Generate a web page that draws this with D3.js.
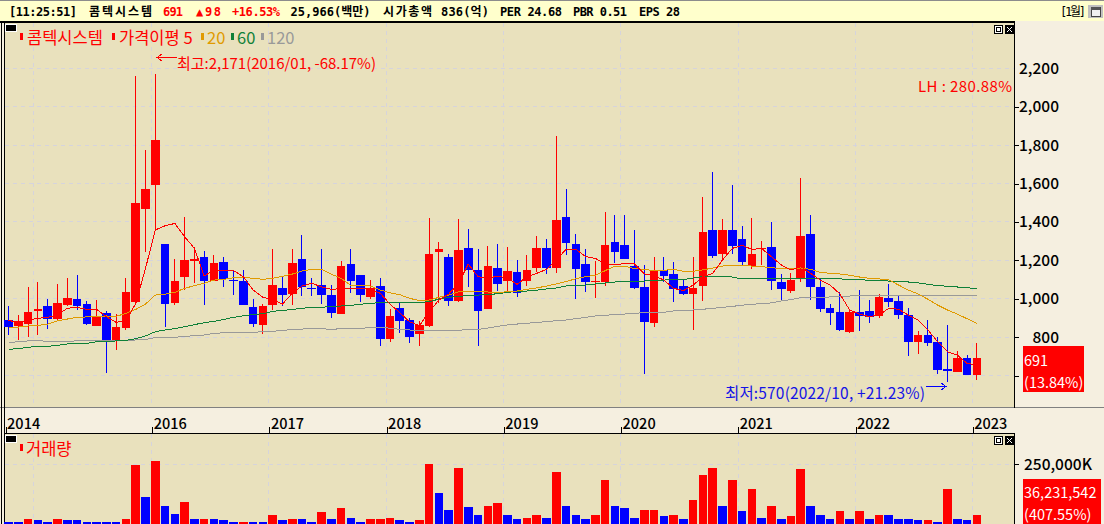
<!DOCTYPE html>
<html>
<head>
<meta charset="utf-8">
<script src="https://cdnjs.cloudflare.com/ajax/libs/d3/7.8.5/d3.min.js"></script>
<style>
html, body { margin: 0; padding: 0; background: #F5EFE0; overflow: hidden; }
text { font-family: "Noto Sans CJK KR", "Noto Sans", sans-serif; }
.hdr { font-family: "DejaVu Sans Mono", "Noto Sans CJK KR", monospace; font-weight: bold; }
.grid { stroke: #D6D4DC; stroke-width: 1; stroke-dasharray: 4,4; shape-rendering: crispEdges; }
.ma { fill: none; stroke-width: 1; shape-rendering: crispEdges; }
.axis text { font-size: 15.5px; fill: #000; font-weight: 500; }
.axis line { stroke: #000; shape-rendering: crispEdges; }
</style>
</head>
<body>
<svg id="chart"></svg>
<script>
// monthly candles, 2014/10 .. 2023/01
var opens = [889,858,868,936,962,894,967,998,972,858,
    925,780,847,983,1467,1592,1285,978,1113,1196,
    1217,1092,1191,1099,1092,957,863,967,1056,1024,
    1207,1056,1071,1019,920,1180,1123,1009,1066,790,
    951,889,816,858,1243,1217,988,1264,1149,946,
    1160,1092,1139,1092,1160,1264,1160,1426,1285,1181,
    1087,1087,1295,1280,1170,1061,873,1149,1129,1066,
    1025,1066,1358,1233,1358,1311,1170,1257,1269,1087,
    1040,1108,1337,1061,952,931,827,931,936,910,
    1004,988,915,775,811,775,634,618,691,603];
var closes = [852,884,931,946,894,977,1003,962,868,910,
    780,852,1035,1498,1571,1827,972,1092,1201,1207,
    1092,1186,1103,1094,967,868,962,1071,1019,1186,
    1061,1051,1019,925,1170,1092,1019,1056,790,910,
    884,800,863,1233,1259,988,1254,1149,936,1170,
    1077,1144,1030,1149,1264,1160,1410,1290,1155,1087,
    1092,1280,1243,1207,1056,879,1149,1118,1051,1025,
    1056,1347,1222,1358,1274,1191,1233,1262,1092,1051,
    1097,1327,1061,946,926,837,931,910,905,1009,
    983,915,775,811,769,629,624,691,603,691];
var highs = [962,915,1061,1087,998,1076,1108,1123,988,993,
    936,920,1108,2160,1775,2171,1285,1207,1426,1269,
    1248,1227,1217,1144,1149,998,975,1259,1113,1259,
    1332,1108,1259,1071,1196,1259,1123,1097,1108,947,
    977,899,884,1420,1295,1233,1415,1363,1259,1274,
    1285,1269,1202,1228,1327,1311,1847,1571,1337,1259,
    1196,1451,1436,1436,1358,1176,1217,1217,1191,1097,
    1217,1530,1660,1415,1592,1379,1420,1300,1400,1129,
    1134,1629,1436,1108,972,1035,941,1045,993,1025,
    1077,1019,952,832,889,801,863,727,707,769];
var lows = [811,785,800,811,842,884,960,941,863,858,
    613,733,837,967,1243,1358,852,967,1045,1082,
    967,1092,1061,1019,967,852,816,941,962,967,
    1014,1014,972,899,920,1030,983,998,754,774,
    821,769,754,852,977,962,983,1061,754,946,
    1040,1040,1009,1066,1139,1129,1134,1228,998,1035,
    1004,1066,1186,1207,1050,608,853,1087,983,1019,
    837,988,1212,1207,1233,1176,1155,1176,1045,988,
    1030,1087,993,931,863,832,821,832,873,899,
    957,894,702,712,754,608,566,618,603,577];

var ma5 = [889,872,889,898,903,915,950,955,944,944,
    906,877,885,975,1158,1358,1380,1392,1323,1262,
    1118,1149,1146,1146,1115,1045,1007,997,972,1028,
    1066,1080,1062,1049,1052,1054,1052,1049,1028,972,
    927,880,859,932,993,1024,1080,1180,1115,1106,
    1118,1106,1075,1115,1132,1153,1202,1257,1257,1219,
    1210,1181,1176,1184,1181,1129,1120,1097,1054,1042,
    1071,1115,1132,1202,1262,1278,1257,1261,1219,1176,
    1150,1167,1132,1097,1071,1025,941,920,906,915,
    950,945,915,889,837,776,724,707,663,655];
var ma20 = [852,852,858,861,868,884,894,903,905,906,
    910,908,924,944,972,1019,1024,1033,1054,1068,
    1080,1097,1101,1109,1111,1106,1101,1106,1116,1128,
    1144,1153,1153,1128,1106,1069,1069,1066,1045,1031,
    1021,1002,990,993,1007,1019,1035,1037,1035,1035,
    1031,1037,1040,1049,1056,1066,1077,1089,1104,1115,
    1122,1146,1170,1169,1156,1153,1146,1148,1153,1143,
    1143,1150,1160,1170,1174,1174,1170,1167,1162,1156,
    1156,1160,1153,1137,1132,1129,1122,1113,1106,1103,
    1099,1071,1045,1025,997,967,941,920,896,872];
var ma60 = [736,740,747,752,752,757,764,766,767,776,
    778,780,783,792,806,828,837,844,854,865,
    875,882,892,903,911,918,922,934,939,944,
    950,955,955,960,962,965,971,976,979,981,
    981,981,981,984,998,1007,1012,1016,1019,1021,
    1026,1033,1038,1040,1044,1051,1056,1066,1070,1071,
    1077,1082,1087,1092,1092,1092,1097,1097,1099,1099,
    1108,1115,1117,1117,1113,1103,1106,1106,1104,1104,
    1104,1104,1104,1103,1103,1103,1101,1099,1096,1094,
    1092,1089,1087,1082,1075,1068,1065,1061,1058,1051];
var ma120 = [772,776,780,783,776,776,776,781,781,780,
    780,781,781,785,788,797,797,799,804,807,
    811,819,823,823,825,825,828,830,835,839,
    842,844,844,840,844,846,846,849,849,847,
    840,837,835,835,835,835,835,840,840,847,
    856,863,868,872,877,880,886,889,896,903,
    910,913,919,920,924,927,927,929,936,939,
    941,945,950,955,960,966,971,974,978,988,
    995,1005,1005,1007,1009,1011,1014,1018,1018,1018,
    1019,1019,1019,1018,1018,1018,1018,1018,1018,1018];

// volume in thousands of shares, up = 1 drawn red, down = 0 drawn blue
var volumes = [8400,8400,16900,12700,8400,21100,12700,12700,8400,8400,
    8400,8400,21100,245000,114000,261900,71800,42200,88700,21100,
    21100,16900,12700,8400,8400,8400,8400,33800,12700,21100,
    16900,8400,46500,16900,63400,25300,8400,16900,16900,25300,
    12700,8400,12700,249200,130900,59100,232300,67600,38000,76000,
    84500,38000,21100,25300,38000,25300,215400,76000,38000,16900,
    33800,181600,71800,63400,25300,54900,59100,29600,33800,21100,
    97200,202800,232300,71800,181600,50700,147800,25300,71800,16900,
    29600,228100,76000,33800,21100,50700,16900,50700,16900,33800,
    33800,16900,16900,12700,12700,8400,143600,16900,12700,38000];
var volumeUp = [0,0,1,0,0,1,0,0,0,0,
    0,0,1,1,0,1,0,0,1,0,
    1,0,0,0,1,0,0,1,0,1,
    0,0,1,0,1,0,0,1,1,1,
    0,0,1,1,0,0,1,0,0,1,
    1,0,0,1,1,0,1,0,0,0,
    1,1,0,0,0,1,1,0,1,0,
    1,1,1,0,1,0,1,0,1,0,
    1,1,0,0,0,1,0,1,0,1,
    0,0,0,0,1,0,1,0,0,1];

var priceTicks = [600,800,1000,1200,1400,1600,1800,2000,2200];
var yearIndex = [0,15,27,39,51,63,75,87,99];
var yearLabels = ["2014","2016","2017","2018","2019","2020","2021","2022","2023"];
var gridIndex = [3,15,27,39,51,63,75,87,99];

var width = 1104;
var height = 524;
var red = "#FF0000";
var blue = "#0000FF";
var orange = "#E09A00";
var green = "#0F8038";
var gray = "#999999";

var svg = d3.select("#chart").attr("width", width).attr("height", height).style("display", "block");

var x = d3.scaleLinear().domain([0, 99]).range([8.6, 976.8]);
var y = d3.scaleLinear().domain([600, 2200]).range([375.5, 68.3]);
var yVol = d3.scaleLinear().domain([0, 250000]).range([523.5, 464.3]);

function rect(x0, y0, w, h, fill) {
    return svg.append("rect").attr("x", x0).attr("y", y0).attr("width", w).attr("height", h).
        attr("fill", fill).style("shape-rendering", "crispEdges");
}

function label(s, x0, y0, size, fill, anchor) {
    return svg.append("text").attr("x", x0).attr("y", y0).attr("font-size", size).
        attr("fill", fill).attr("text-anchor", anchor || "start").text(s);
}

// header text is a fixed pitch font, so every piece gets its measured width
function hdrLabel(s, x0, w, fill) {
    return label(s, x0, 16, 12, fill || "#000").attr("class", "hdr").attr("textLength", w);
}

// backgrounds
rect(0, 0, width, height, "#F5EFE0");
rect(0, 0, width, 1, "#8C8C8C");
rect(0, 1, width, 20, "#FFFFCC");
rect(5, 23, 1010, 384, "#E9E1BD");
rect(5, 433, 1010, 91, "#E9E1BD");
rect(0, 407, width, 1, "#808080");

// frame
rect(0, 21, 1015, 2, "#000");
rect(1, 21, 1, 503, "#000");
rect(4, 21, 1, 503, "#000");
rect(1014, 21, 1, 387, "#000");
rect(4, 433, 1011, 1, "#000");
rect(1014, 433, 1, 91, "#000");

// grid
var grid = svg.append("g");
grid.selectAll(".h").data(priceTicks).enter().append("line").attr("class", "grid").
    attr("x1", 5).attr("x2", 1014).
    attr("y1", function(d) { return y(d); }).attr("y2", function(d) { return y(d); });
grid.selectAll(".v").data(gridIndex).enter().append("line").attr("class", "grid").
    attr("x1", function(d) { return x(d) - 4; }).attr("x2", function(d) { return x(d) - 4; }).
    attr("y1", 23).attr("y2", 407);
grid.selectAll(".v2").data(gridIndex).enter().append("line").attr("class", "grid").
    attr("x1", function(d) { return x(d) - 4; }).attr("x2", function(d) { return x(d) - 4; }).
    attr("y1", 434).attr("y2", 524);
grid.append("line").attr("class", "grid").attr("x1", 5).attr("x2", 1014).
    attr("y1", yVol(250000)).attr("y2", yVol(250000));

// candles
var candles = svg.append("g").selectAll("g").data(d3.range(opens.length)).enter().append("g").
    style("shape-rendering", "crispEdges");
function candleColor(i) { return closes[i] >= opens[i] ? red : blue; }
candles.append("line").
    attr("x1", function(i) { return x(i); }).attr("x2", function(i) { return x(i); }).
    attr("y1", function(i) { return y(highs[i]); }).attr("y2", function(i) { return y(lows[i]); }).
    attr("stroke", candleColor);
candles.append("rect").
    attr("x", function(i) { return x(i) - 4.3; }).attr("width", 8.6).
    attr("y", function(i) { return y(Math.max(opens[i], closes[i])); }).
    attr("height", function(i) { return Math.max(1, Math.abs(y(opens[i]) - y(closes[i]))); }).
    attr("fill", candleColor);

// moving averages
var line = d3.line().x(function(d, i) { return x(i); }).y(function(d) { return y(d); });
[[ma120, gray], [ma60, green], [ma20, orange], [ma5, red]].forEach(function(m) {
    svg.append("path").attr("class", "ma").attr("d", line(m[0])).attr("stroke", m[1]);
});

// volume bars
svg.append("g").selectAll("rect").data(volumes).enter().append("rect").
    attr("x", function(d, i) { return x(i) - 4.3; }).attr("width", 8.6).
    attr("y", function(d) { return yVol(d); }).
    attr("height", function(d) { return yVol(0) - yVol(d); }).
    attr("fill", function(d, i) { return volumeUp[i] ? red : blue; }).
    style("shape-rendering", "crispEdges");

// price axis, right aligned labels; 600 sits behind the current price box
var priceAxis = d3.axisRight(y).tickValues(priceTicks).tickSize(4).tickPadding(0).
    tickFormat(function(d) { return d == 600 ? "" : d3.format(",")(d); });
svg.append("g").attr("class", "axis").attr("transform", "translate(1015,0)").call(priceAxis).
    call(function(g) {
        g.select(".domain").remove();
        g.selectAll("text").attr("text-anchor", "end").attr("x", 44);
        g.selectAll(".tick line").filter(function(d) { return d == 2200; }).remove();
    });

// volume axis
var volAxis = d3.axisRight(yVol).tickValues([0, 250000]).tickSize(4).tickPadding(5).
    tickFormat(function(d) { return d ? d3.format(",")(d) + "K" : ""; });
svg.append("g").attr("class", "axis").attr("transform", "translate(1015,0)").call(volAxis).
    call(function(g) { g.select(".domain").remove(); });

// year axis, labels sit right of the tick
var yearScale = d3.scaleLinear().domain(x.domain()).range([x.range()[0] - 3, x.range()[1] - 4]);
var yearAxis = d3.axisTop(yearScale).tickValues(yearIndex).tickSize(6).tickPadding(0).
    tickFormat(function(d, i) { return yearLabels[i]; });
svg.append("g").attr("class", "axis").attr("transform", "translate(0,433)").call(yearAxis).
    call(function(g) {
        g.select(".domain").remove();
        g.selectAll("text").attr("text-anchor", "start").attr("x", 1).attr("y", -4).style("font-size", "14.5px");
    });

// price and volume boxes
rect(1023, 346, 61, 46, red);
label("691", 1024, 366, 14.5, "#fff");
label("(13.84%)", 1024, 388, 14.5, "#fff");
rect(1023, 479, 78, 45, red);
label("36,231,542", 1024, 498, 14.5, "#fff");
label("(407.55%)", 1024, 520, 14.5, "#fff");

// header bar
hdrLabel("[11:25:51]", 9, 68);
hdrLabel("콤텍시스템", 89, 63);
hdrLabel("691", 163, 20, red);
hdrLabel("▲98", 196, 25, red);
hdrLabel("+16.53%", 232, 48, red);
hdrLabel("25,966(백만)", 290.5, 80);
hdrLabel("시가총액", 383, 49);
hdrLabel("836(억)", 441, 48);
hdrLabel("PER 24.68", 500, 62);
hdrLabel("PBR 0.51", 573, 54);
hdrLabel("EPS 28", 639, 41);
hdrLabel("[1월]", 1060, 26).style("font-weight", "normal");
rect(1088, 5, 15, 13, "#C0C0C0");
rect(1091, 7, 9, 9, "#F0F0F0").attr("stroke", "#444");
rect(1091, 7, 9, 3, "#555");

// panel widgets
rect(5, 24, 12, 8, "#fff");
rect(6, 25, 10, 6, "#000");
rect(5, 435, 12, 8, "#fff");
rect(6, 436, 10, 6, "#000");
[25, 436].forEach(function(top) {
    rect(994, top, 9, 9, "#000");
    rect(995, top + 1, 7, 7, "#fff");
    rect(996, top + 2, 5, 5, "#000");
    rect(997, top + 3, 3, 3, "#fff");
    rect(1005, top, 9, 9, "#000");
    svg.append("path").attr("d", "M1007," + (top + 2) + "l5,5m0,-5l-5,5").attr("stroke", "#fff").attr("fill", "none");
});

// legend
rect(20, 33, 3, 7, red);
label("콤텍시스템", 27, 44, 16.5, red);
rect(112, 33, 3, 7, red);
label("가격이평 5", 119, 44, 16.5, red);
rect(201, 33, 3, 7, orange);
label("20", 207, 44, 16.5, orange);
rect(231, 33, 3, 7, green);
label("60", 237, 44, 16.5, green);
rect(261, 33, 3, 7, gray);
label("120", 267, 44, 16.5, gray);
rect(20, 444, 3, 7, red);
label("거래량", 26, 455, 16.5, red);

// annotations
label("최고:2,171(2016/01, -68.17%)", 177, 69, 15, red).attr("textLength", 199);
label("LH : 280.88%", 918, 92, 15, red).attr("textLength", 94);
label("최저:570(2022/10, +21.23%)", 725, 398.5, 15.5, "#1414E6").attr("textLength", 200);
var arrows = svg.append("g").attr("fill", "none").style("shape-rendering", "crispEdges");
arrows.append("path").attr("d", "M177,57.5H157M162,54L157,57.5L162,61").attr("stroke", red);
arrows.append("path").attr("d", "M926,386.5H946M941,383L946,386.5L941,390").attr("stroke", blue);
</script>
</body>
</html>
